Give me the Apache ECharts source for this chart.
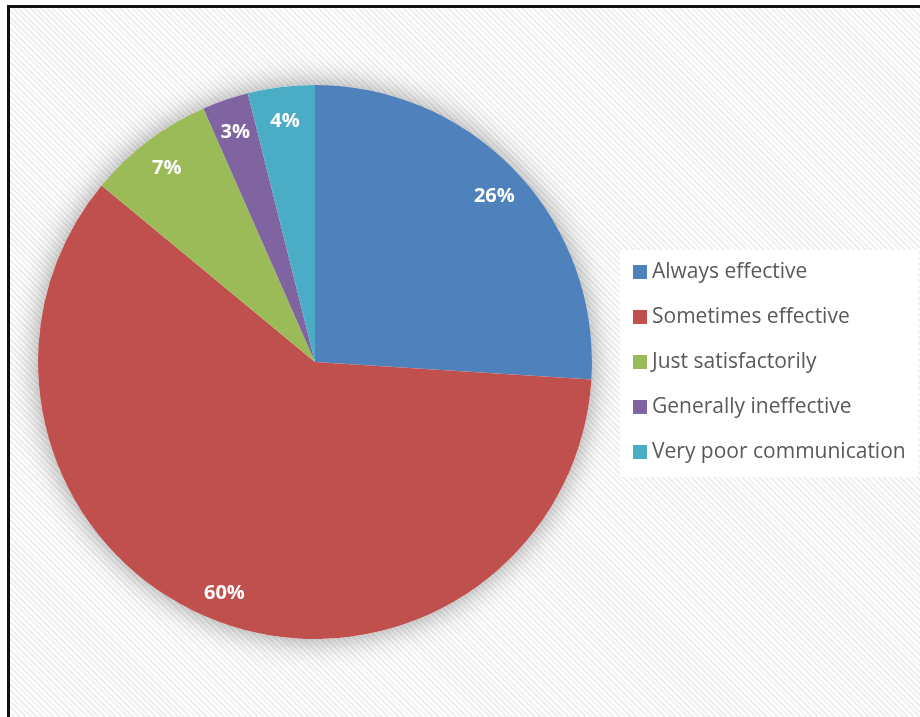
<!DOCTYPE html>
<html>
<head>
<meta charset="utf-8">
<script src="https://cdn.jsdelivr.net/npm/echarts@6/dist/echarts.min.js"></script>
<style>
html,body{margin:0;padding:0;width:920px;height:717px;overflow:hidden;background:#fff;}
#bg{position:absolute;left:10px;top:8px;width:920px;height:720px;
 background:repeating-linear-gradient(45deg,#ffffff 0px,#ffffff 2px,#efefef 2px,#efefef 4px);}
#frame{position:absolute;left:7px;top:5px;width:930px;height:730px;border-left:3px solid #111;border-top:3px solid #111;pointer-events:none;}
#chart{position:absolute;left:0;top:0;width:920px;height:717px;}
</style>
</head>
<body>
<div id="bg"></div>
<div id="chart"></div>
<div id="frame"></div>
<script>
const categories = ['Always effective','Sometimes effective','Just satisfactorily','Generally ineffective','Very poor communication'];
const values = [26, 60, 7.4, 2.7, 3.9];
const colors = ['#4F81BD','#C0504D','#9BBB59','#8064A2','#4BACC6'];

const chart = echarts.init(document.getElementById('chart'), null, {renderer:'canvas'});
const center = [315, 362];
const R = 277;
const mainData = categories.map((c,i)=>({name:c, value:values[i], itemStyle:{color:colors[i]}}));
const labelData = categories.map((c,i)=>({name:c, value:values[i]}));

chart.setOption({
  backgroundColor:'transparent',
  animation:false,
  graphic:[{type:'rect', z:0, shape:{x:620,y:250,width:298,height:227}, style:{fill:'#ffffff'}}],
  legend:{
    orient:'vertical', left:620, top:250, z:5,
    padding:[11,10,14,13],
    itemWidth:14, itemHeight:14, itemGap:23,
    icon:'rect',
    data:categories,
    textStyle:{color:'#595959', fontSize:21, fontFamily:'Open Sans', lineHeight:22}
  },
  series:[
    {type:'pie', center:center, radius:R, silent:true, z:1,
     startAngle:90, clockwise:true,
     label:{show:false}, labelLine:{show:false},
     itemStyle:{color:'#ffffff', shadowBlur:28, shadowColor:'rgba(0,0,0,0.38)'},
     data:[{name:'_shadow', value:1}]},
    {type:'pie', center:center, radius:R, z:2, startAngle:90, clockwise:true,
     label:{show:false}, labelLine:{show:false},
     itemStyle:{borderWidth:0},
     emphasis:{disabled:true},
     data:mainData},
    {type:'pie', center:center, radius:[209,R], z:3, startAngle:90, clockwise:true, silent:true,
     itemStyle:{color:'rgba(0,0,0,0)'},
     labelLine:{show:false},
     label:{show:true, position:'inside', offset:[0,3], color:'#ffffff', fontSize:20, fontWeight:'bold', fontFamily:'Open Sans',
       formatter:p=>Math.round(p.percent)+'%'},
     emphasis:{disabled:true},
     data:labelData}
  ]
});
</script>
</body>
</html>
